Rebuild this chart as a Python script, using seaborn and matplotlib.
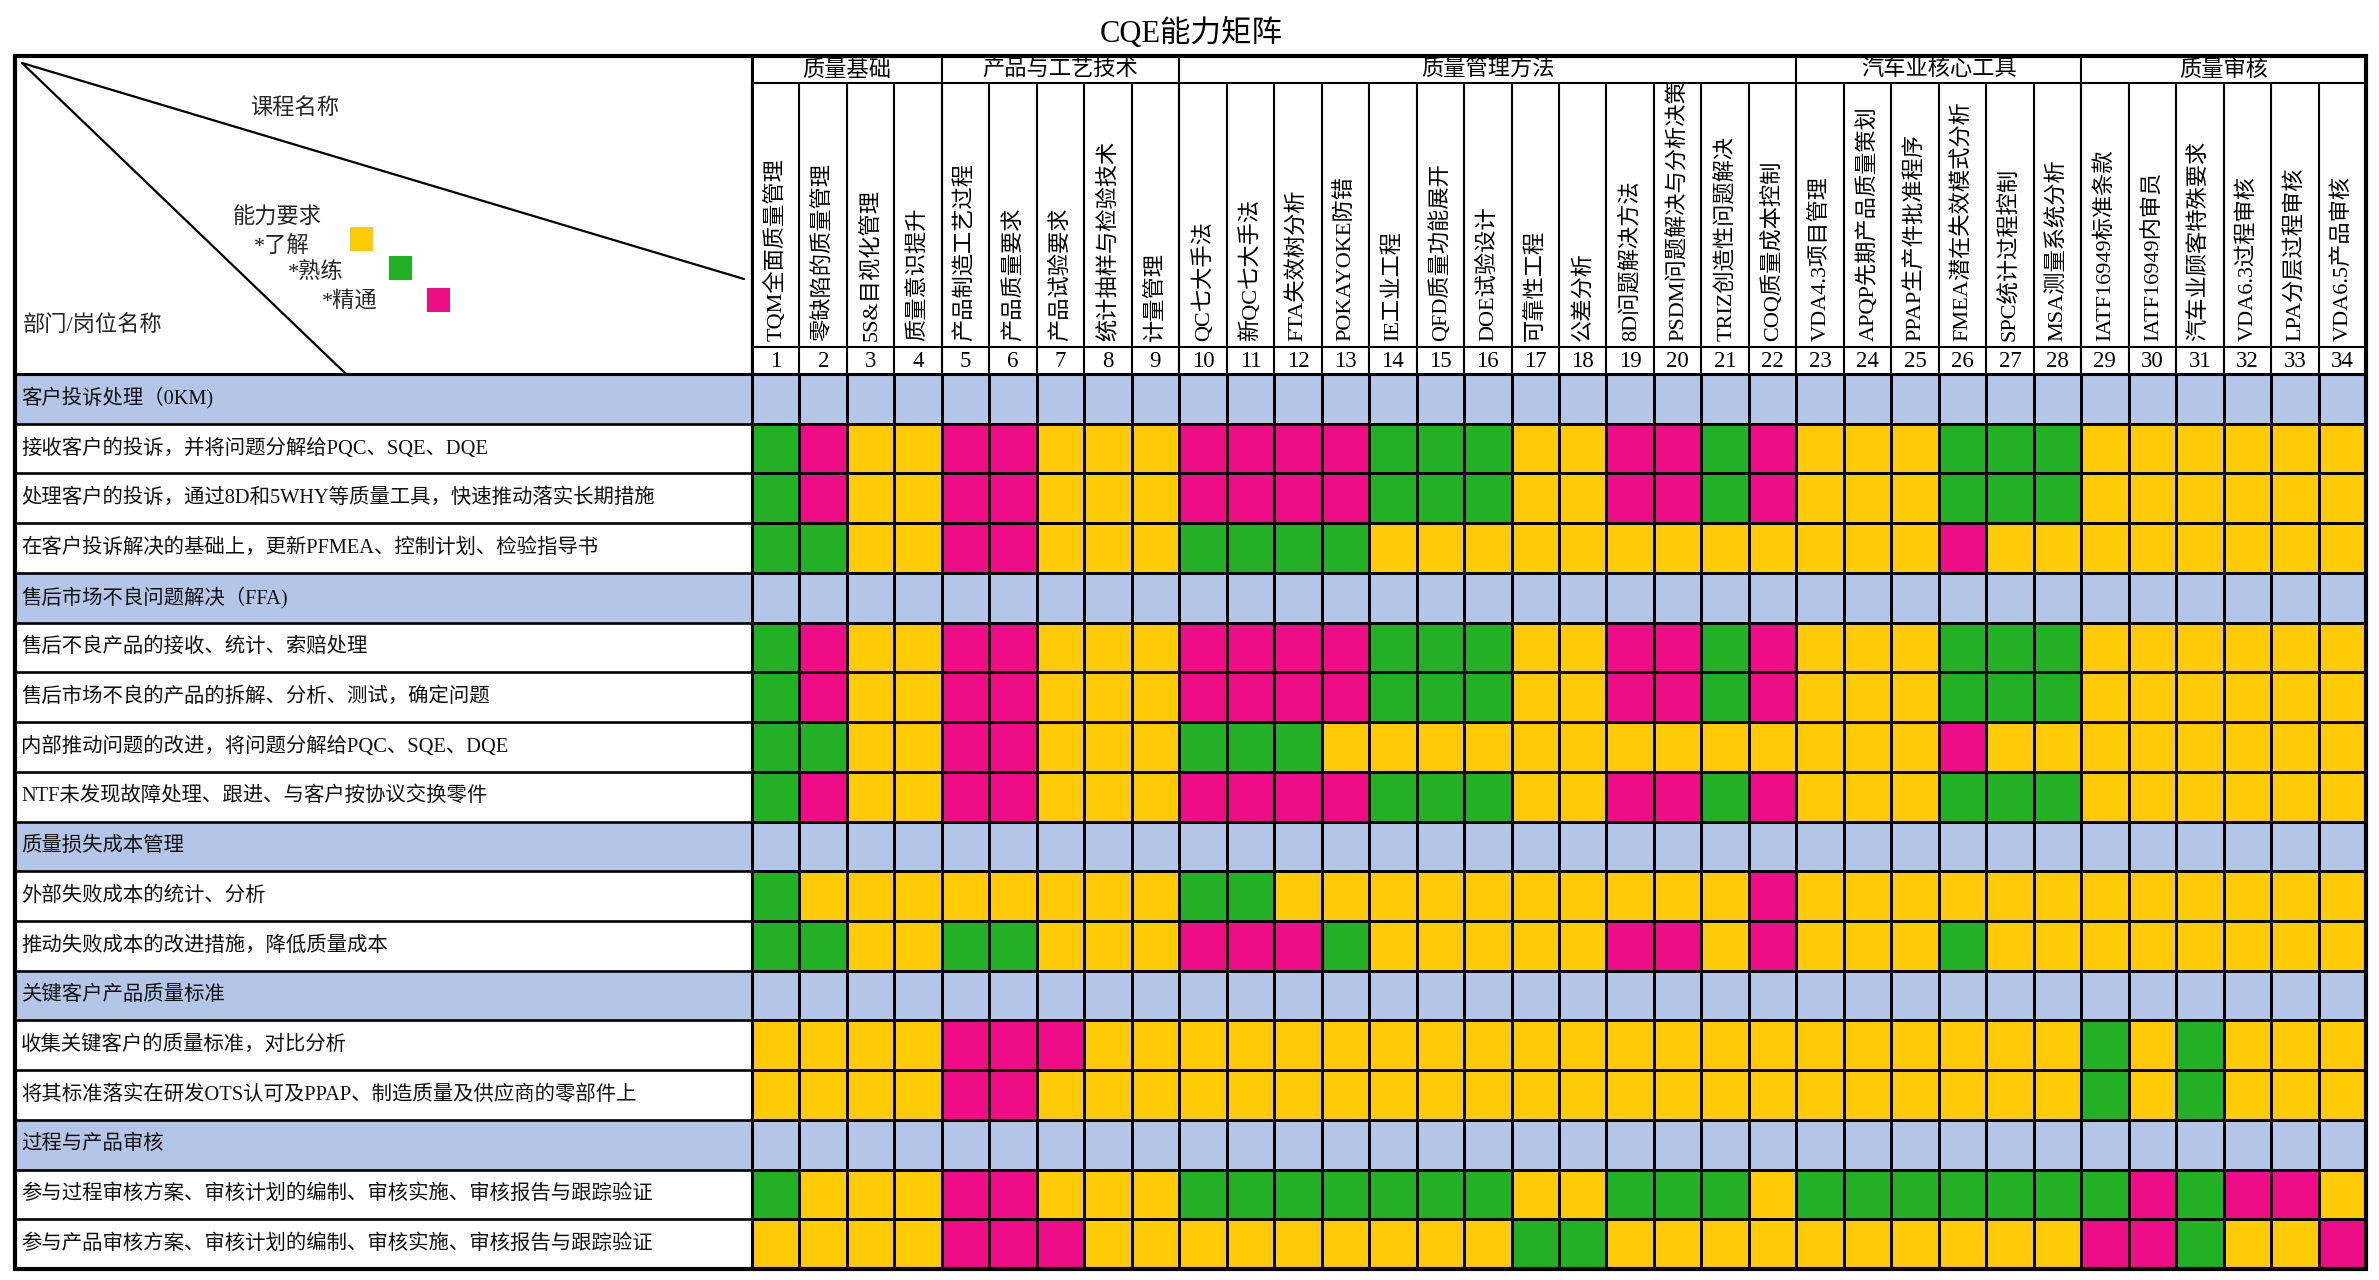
import numpy as np
import pandas as pd
import matplotlib
matplotlib.use("Agg")
import matplotlib.pyplot as plt
from matplotlib.colors import ListedColormap
from matplotlib.patches import Rectangle
from matplotlib.transforms import blended_transform_factory, Bbox, TransformedBbox
import seaborn as sns

# ---------------- data ----------------
title = "CQE能力矩阵"

group_names = ["质量基础", "产品与工艺技术", "质量管理方法", "汽车业核心工具", "质量审核"]
group_sizes = [4, 5, 13, 6, 6]

course_names = [
    "TQM全面质量管理", "零缺陷的质量管理", "5S&目视化管理", "质量意识提升",
    "产品制造工艺过程", "产品质量要求", "产品试验要求", "统计抽样与检验技术", "计量管理",
    "QC七大手法", "新QC七大手法", "FTA失效树分析", "POKAYOKE防错", "IE工业工程",
    "QFD质量功能展开", "DOE试验设计", "可靠性工程", "公差分析", "8D问题解决方法",
    "PSDM问题解决与分析决策", "TRIZ创造性问题解决", "COQ质量成本控制",
    "VDA4.3项目管理", "APQP先期产品质量策划", "PPAP生产件批准程序", "FMEA潜在失效模式分析",
    "SPC统计过程控制", "MSA测量系统分析",
    "IATF16949标准条款", "IATF16949内审员", "汽车业顾客特殊要求", "VDA6.3过程审核",
    "LPA分层过程审核", "VDA6.5产品审核",
]
course_numbers = [str(i) for i in range(1, 35)]

row_labels = [
    "客户投诉处理（0KM)",
    "接收客户的投诉，并将问题分解给PQC、SQE、DQE",
    "处理客户的投诉，通过8D和5WHY等质量工具，快速推动落实长期措施",
    "在客户投诉解决的基础上，更新PFMEA、控制计划、检验指导书",
    "售后市场不良问题解决（FFA)",
    "售后不良产品的接收、统计、索赔处理",
    "售后市场不良的产品的拆解、分析、测试，确定问题",
    "内部推动问题的改进，将问题分解给PQC、SQE、DQE",
    "NTF未发现故障处理、跟进、与客户按协议交换零件",
    "质量损失成本管理",
    "外部失败成本的统计、分析",
    "推动失败成本的改进措施，降低质量成本",
    "关键客户产品质量标准",
    "收集关键客户的质量标准，对比分析",
    "将其标准落实在研发OTS认可及PPAP、制造质量及供应商的零部件上",
    "过程与产品审核",
    "参与过程审核方案、审核计划的编制、审核实施、审核报告与跟踪验证",
    "参与产品审核方案、审核计划的编制、审核实施、审核报告与跟踪验证",
]

# Y = 了解, G = 熟练, P = 精通 ; None = section heading row
# groups of courses separated by spaces: 1-4 | 5-9 | 10-22 | 23-28 | 29-34
row_levels = [
    None,
    "GPYY PPYYY PPPPGGGYYPPGP YYYGGG YYYYYY",
    "GPYY PPYYY PPPPGGGYYPPGP YYYGGG YYYYYY",
    "GGYY PPYYY GGGGYYYYYYYYY YYYPYY YYYYYY",
    None,
    "GPYY PPYYY PPPPGGGYYPPGP YYYGGG YYYYYY",
    "GPYY PPYYY PPPPGGGYYPPGP YYYGGG YYYYYY",
    "GGYY PPYYY GGGYYYYYYYYYY YYYPYY YYYYYY",
    "GPYY PPYYY PPPPGGGYYPPGP YYYGGG YYYYYY",
    None,
    "GYYY YYYYY GGYYYYYYYYYYP YYYYYY YYYYYY",
    "GGYY GGYYY PPPGYYYYYPPYP YYYGYY YYYYYY",
    None,
    "YYYY PPPYY YYYYYYYYYYYYY YYYYYY GYGYYY",
    "YYYY PPYYY YYYYYYYYYYYYY YYYYYY GYGYYY",
    None,
    "GYYY PPYYY GGGGGGGYYGGGY GGGGGG GPGPPY",
    "YYYY PPPYY YYYYYYYGGYYYY YYYYYY PPGYYP",
]

legend_title = "能力要求"
legend_labels = ["*了解", "*熟练", "*精通"]
level_codes = ["Y", "G", "P"]

# ---------------- styles ----------------
C_SECTION = "#B4C6E7"
C_YELLOW = "#FFCB05"
C_GREEN = "#22B024"
C_PINK = "#EE0C87"
level_colors = {"Y": C_YELLOW, "G": C_GREEN, "P": C_PINK}

code_value = {"Y": 1, "G": 2, "P": 3}
matrix = np.array([[0] * len(course_names) if r is None
                   else [code_value[c] for c in r.replace(" ", "")]
                   for r in row_levels])
df = pd.DataFrame(matrix, index=row_labels, columns=course_numbers)

sns.set_theme(style="white")
plt.rcParams["font.family"] = ["Liberation Serif", "Noto Sans CJK SC", "DejaVu Sans"]

W, H = 2379, 1280
fig = plt.figure(figsize=(W / 100, H / 100), dpi=100)
fig.patch.set_facecolor("white")

# layout (pixels)
TL, TR, TT, TB = 15, 2366, 56, 1269
GX0 = 752
GROUP_B = 83
NAME_B = 347
NUM_B = 374

ax = fig.add_axes([GX0 / W, 1 - TB / H, (TR - GX0) / W, (TB - NUM_B) / H])
cmap = ListedColormap([C_SECTION, C_YELLOW, C_GREEN, C_PINK])
sns.heatmap(df, ax=ax, cmap=cmap, vmin=-0.5, vmax=3.5, cbar=False,
            linewidths=1.8, linecolor="black", xticklabels=False, yticklabels=False)
ax.set_xlabel("")
ax.set_ylabel("")
ax.set_zorder(1)

ax0 = fig.add_axes([0, 0, 1, 1])
ax0.set_xlim(0, W)
ax0.set_ylim(H, 0)
ax0.axis("off")
ax0.patch.set_alpha(0)
ax0.set_zorder(2)

tr_px_x_data_y = blended_transform_factory(ax0.transData, ax.transData)
tr_data_x_px_y = blended_transform_factory(ax.transData, ax0.transData)

ncol = len(course_names)
nrow = len(row_labels)

# title
ax0.text(1191, 33, title, ha="center", va="center", fontsize=22, color="black")

# label column: section fills + row lines + labels
for j, (lab, lv) in enumerate(zip(row_labels, row_levels)):
    if lv is None:
        ax0.add_patch(Rectangle((TL, j), GX0 - TL, 1, transform=tr_px_x_data_y,
                                facecolor=C_SECTION, edgecolor="none", zorder=1))
    ax0.text(21, j + 0.5, lab, transform=tr_px_x_data_y, ha="left", va="center",
             fontsize=14.7, color="#111111", zorder=3)
ax0.hlines(np.arange(nrow + 1), TL, GX0, transform=tr_px_x_data_y,
           color="black", lw=1.9, zorder=4)

# header: column lines in name/number rows
ax0.vlines(np.arange(ncol + 1), GROUP_B, NUM_B, transform=tr_data_x_px_y,
           color="black", lw=1.5, zorder=4)
# group separators
bounds = np.cumsum([0] + group_sizes)
ax0.vlines(bounds, TT, NUM_B, transform=tr_data_x_px_y, color="black", lw=1.5, zorder=4)
ax0.hlines([GROUP_B, NAME_B], 0, ncol, transform=tr_data_x_px_y, color="black", lw=1.5, zorder=4)
ax0.hlines([NUM_B], TL, TR, color="black", lw=2.2, zorder=4)
ax0.vlines([GX0], TT, TB, color="black", lw=2.2, zorder=4)

# group names
for g, s0, s1 in zip(group_names, bounds[:-1], bounds[1:]):
    ax0.text((s0 + s1) / 2, (TT + GROUP_B) / 2 + 1, g, transform=tr_data_x_px_y,
             ha="center", va="center", fontsize=16, color="black")

# course names (vertical), clipped to the name row
clip = TransformedBbox(Bbox([[TL, GROUP_B + 1], [TR, NAME_B]]), ax0.transData)
for i, name in enumerate(course_names):
    t = ax0.text(i + 0.5, NAME_B - 6, name, transform=tr_data_x_px_y, rotation=90,
                 ha="center", va="bottom", fontsize=16, color="black", zorder=3)
    t.set_clip_box(clip)
    t.set_clip_on(True)
# numbers
for i, num in enumerate(course_numbers):
    ax0.text(i + 0.5, (NAME_B + NUM_B) / 2 + 1, num, transform=tr_data_x_px_y,
             ha="center", va="center", fontsize=16.5, color="black")

# top-left corner cell: diagonals and texts
ax0.plot([22, 744], [63, 279], color="black", lw=1.6, zorder=4)
ax0.plot([22, 346], [63, NUM_B], color="black", lw=1.6, zorder=4)
ax0.text(250, 109, "课程名称", ha="left", va="center", fontsize=16)
ax0.text(23, 326, "部门/岗位名称", ha="left", va="center", fontsize=16)
ax0.text(233, 218, legend_title, ha="left", va="center", fontsize=16)
leg_text_x = [254, 288, 322]
leg_text_y = [246, 273, 301]
leg_box_x = [350, 389, 427]
leg_box_y = [227, 256, 288]
for lab, code, tx, ty, bx, by in zip(legend_labels, level_codes, leg_text_x, leg_text_y,
                                     leg_box_x, leg_box_y):
    ax0.text(tx, ty, lab, ha="left", va="center", fontsize=16)
    ax0.add_patch(Rectangle((bx, by), 23, 24, facecolor=level_colors[code],
                            edgecolor="none", zorder=3))

# outer border
ax0.add_patch(Rectangle((TL, TT), TR - TL, TB - TT, facecolor="none",
                        edgecolor="black", lw=3.0, zorder=6))

fig.savefig("out.png", dpi=100)
